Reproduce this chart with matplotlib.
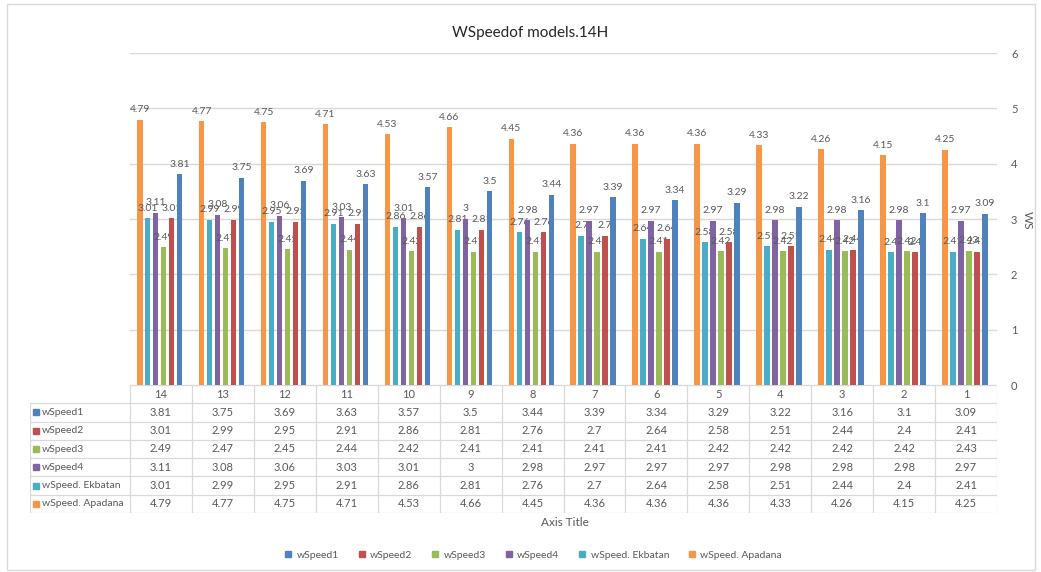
import numpy as np
import matplotlib.pyplot as plt
from matplotlib.patches import Rectangle
from matplotlib.lines import Line2D

plt.rcParams['font.family'] = ['Lato', 'DejaVu Sans']

categorias = ["14", "13", "12", "11", "10", "9", "8", "7", "6", "5", "4", "3", "2", "1"]
wspeed1 = [3.81, 3.75, 3.69, 3.63, 3.57, 3.5, 3.44, 3.39, 3.34, 3.29, 3.22, 3.16, 3.1, 3.09]
wspeed2 = [3.01, 2.99, 2.95, 2.91, 2.86, 2.81, 2.76, 2.7, 2.64, 2.58, 2.51, 2.44, 2.4, 2.41]
wspeed3 = [2.49, 2.47, 2.45, 2.44, 2.42, 2.41, 2.41, 2.41, 2.41, 2.42, 2.42, 2.42, 2.42, 2.43]
wspeed4 = [3.11, 3.08, 3.06, 3.03, 3.01, 3, 2.98, 2.97, 2.97, 2.97, 2.98, 2.98, 2.98, 2.97]
ekbatan = [3.01, 2.99, 2.95, 2.91, 2.86, 2.81, 2.76, 2.7, 2.64, 2.58, 2.51, 2.44, 2.4, 2.41]
apadana = [4.79, 4.77, 4.75, 4.71, 4.53, 4.66, 4.45, 4.36, 4.36, 4.36, 4.33, 4.26, 4.15, 4.25]

nombres = ["wSpeed1", "wSpeed2", "wSpeed3", "wSpeed4", "wSpeed. Ekbatan", "wSpeed. Apadana"]
series = [wspeed1, wspeed2, wspeed3, wspeed4, ekbatan, apadana]
colores = ["#4F81BD", "#C0504D", "#9BBB59", "#8064A2", "#4BACC6", "#F79646"]
# orden de las barras dentro de cada grupo (como en el original)
orden_barras = [5, 4, 3, 2, 1, 0]

W, H = 1041, 572
gris = "#595959"
linea = "#D9D9D9"

fig = plt.figure(figsize=(W / 100, H / 100), dpi=100)

# Borde del gráfico
fig.add_artist(Rectangle((7 / W, 1 - 570 / H), (1035 - 7) / W, (570 - 4) / H,
                         transform=fig.transFigure, fill=False, edgecolor=linea, lw=1))

ax = fig.add_axes([130 / W, (H - 385) / H, 867 / W, 332 / H])
x = np.arange(len(categorias))
paso = 0.129
ancho = 0.089
for k, idx in enumerate(orden_barras):
    barras = ax.bar(x + (k - 2.5) * paso - 0.02, series[idx], width=ancho, color=colores[idx], zorder=3)
    ax.bar_label(barras, labels=[f"{v:g}" for v in series[idx]], padding=4, fontsize=7.5, color=gris)

ax.set_xlim(-0.5, len(categorias) - 0.5)
ax.set_ylim(0, 6)
ax.set_yticks(range(7))
ax.yaxis.tick_right()
ax.tick_params(axis="y", length=0, pad=10, labelsize=8, labelcolor=gris)
ax.set_xticks([])
ax.grid(axis="y", color=linea, lw=1, zorder=0)
for s in ax.spines.values():
    s.set_visible(False)
fig.text(1027 / W, 1 - 220 / H, "WS", rotation=270, ha="center", va="center", fontsize=8.5, color=gris)

# Tabla de datos
tab = fig.add_axes([30 / W, (H - 513) / H, 967 / W, 128 / H])
izq = -0.5 - (130 - 30) / (867 / 14)
n = len(categorias)
tab.set_xlim(izq, n - 0.5)
tab.set_ylim(7, 0)
tab.axis("off")
for r in range(8):
    x0 = -0.5 if r == 0 else izq
    tab.plot([x0, n - 0.5], [r, r], color=linea, lw=0.9)
for c in range(n + 1):
    tab.plot([c - 0.5, c - 0.5], [0, 7], color=linea, lw=0.9)
tab.plot([izq, izq], [1, 7], color=linea, lw=0.9)
for c, cat in enumerate(categorias):
    tab.text(c, 0.5, cat, ha="center", va="center", fontsize=8, color=gris)
for r, (nombre, datos, col) in enumerate(zip(nombres, series, colores), start=1):
    tab.plot([izq + 0.1], [r + 0.5], marker="s", ms=4.5, color=col, ls="none")
    tab.text(izq + 0.19, r + 0.5, nombre, ha="left", va="center", fontsize=7.5, color=gris)
    for c, v in enumerate(datos):
        tab.text(c, r + 0.5, f"{v:g}", ha="center", va="center", fontsize=8, color=gris)

fig.text(565 / W, 1 - 522 / H, "Axis Title", ha="center", va="center", fontsize=8.5, color=gris)
fig.text(530 / W, 1 - 33 / H, "WSpeedof models.14H", ha="center", va="center", fontsize=11, color="#262626")

manejadores = [Line2D([], [], marker="s", ms=5, color=c, ls="none") for c in colores]
fig.legend(manejadores, nombres, loc="center", bbox_to_anchor=(532 / W, 1 - 555 / H), ncol=6,
           frameon=False, fontsize=7.5, labelcolor=gris, handletextpad=0.2, handlelength=1.2,
           columnspacing=1.6)

fig.savefig("out.png", dpi=100)
